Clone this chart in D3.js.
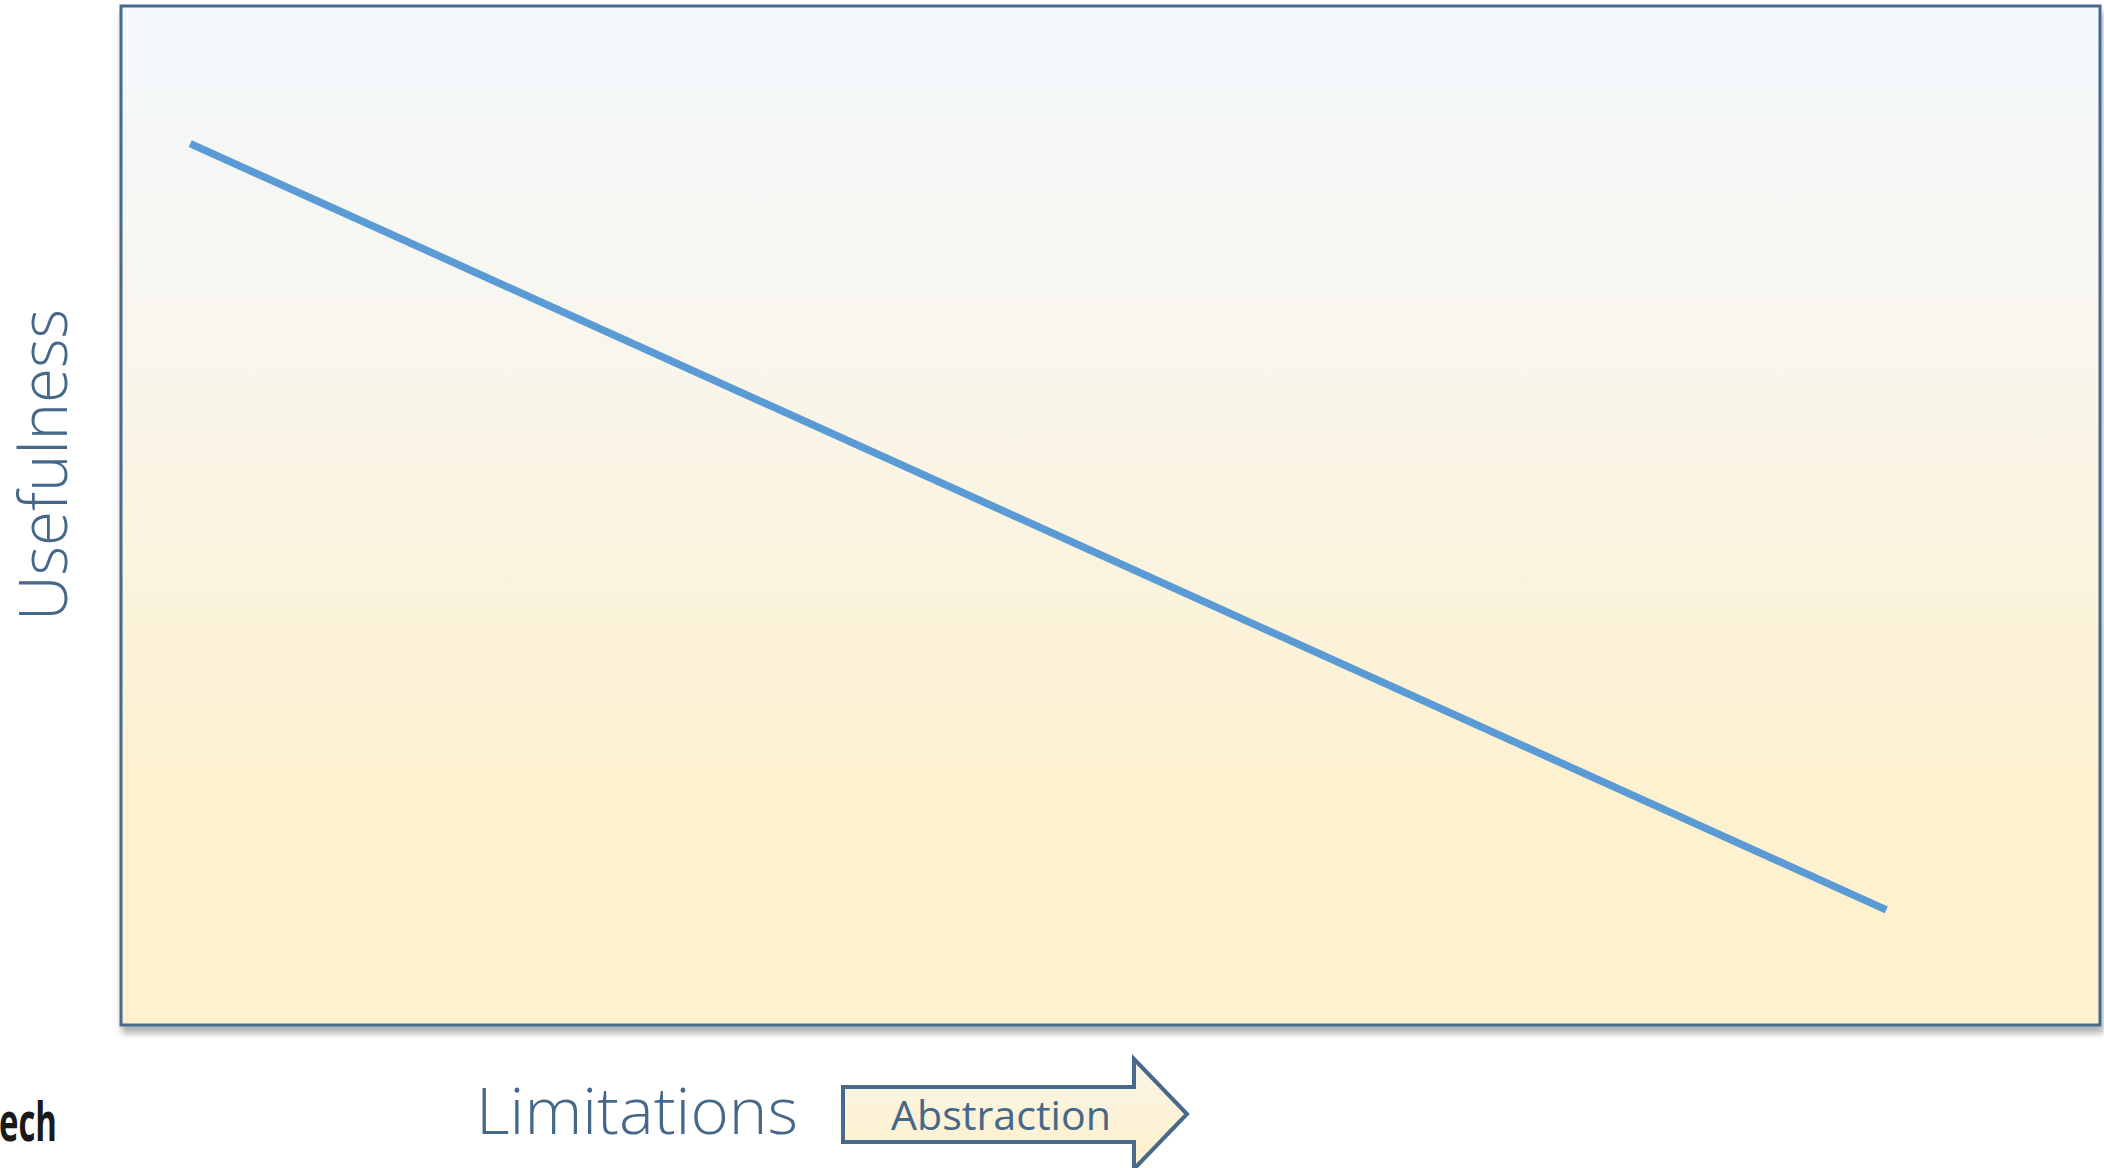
<!DOCTYPE html>
<html>
<head>
<meta charset="utf-8">
<script src="https://cdn.jsdelivr.net/npm/d3@7"></script>
<style>
  html, body { margin: 0; padding: 0; background: #fff; overflow: hidden; }
  svg { display: block; }
</style>
</head>
<body>
<svg id="chart"></svg>
<script>
// Data - usefulness falls as abstraction limitations grow
const lineX = [3.5, 89.2];
const lineY = [86.5, 11.3];
const yLabel = 'Usefulness';
const xLabel = 'Limitations';
const arrowLabel = 'Abstraction';
const cornerText = 'ech';

const W = 2104, H = 1168;
const margin = { top: 6, right: 4, bottom: 143, left: 121 };
const width = W - margin.left - margin.right;
const height = H - margin.top - margin.bottom;

const svg = d3.select('#chart')
    .attr('width', W)
    .attr('height', H);

const defs = svg.append('defs');

// background gradient of the plot box
const bg = defs.append('linearGradient')
    .attr('id', 'bg')
    .attr('x1', 0).attr('y1', 0).attr('x2', 0).attr('y2', 1);
bg.append('stop').attr('offset', '0%').attr('stop-color', '#F3F8FC');
bg.append('stop').attr('offset', '30%').attr('stop-color', '#F8F6EF');
bg.append('stop').attr('offset', '75%').attr('stop-color', '#FDF1D0');
bg.append('stop').attr('offset', '100%').attr('stop-color', '#FFF1CC');

const arrowFill = defs.append('linearGradient')
    .attr('id', 'arrowFill')
    .attr('x1', 0).attr('y1', 0).attr('x2', 0).attr('y2', 1);
arrowFill.append('stop').attr('offset', '0%').attr('stop-color', '#FBF6E8');
arrowFill.append('stop').attr('offset', '100%').attr('stop-color', '#FDEFC8');

const shadow = defs.append('filter')
    .attr('id', 'shadow')
    .attr('x', '-5%').attr('y', '-5%').attr('width', '110%').attr('height', '115%');
shadow.append('feDropShadow')
    .attr('dx', 2).attr('dy', 7)
    .attr('stdDeviation', 3)
    .attr('flood-color', '#000')
    .attr('flood-opacity', 0.3);

// plot box
svg.append('rect')
    .attr('x', margin.left)
    .attr('y', margin.top)
    .attr('width', width)
    .attr('height', height)
    .attr('fill', 'url(#bg)')
    .attr('stroke', '#46698C')
    .attr('stroke-width', 3)
    .attr('filter', 'url(#shadow)');

const g = svg.append('g')
    .attr('transform', `translate(${margin.left},${margin.top})`);

const x = d3.scaleLinear().domain([0, 100]).range([0, width]);
const y = d3.scaleLinear().domain([0, 100]).range([height, 0]);

const points = lineX.map((v, i) => ({ x: v, y: lineY[i] }));

g.append('path')
    .datum(points)
    .attr('fill', 'none')
    .attr('stroke', '#5B9BD5')
    .attr('stroke-width', 7.5)
    .attr('stroke-linecap', 'butt')
    .attr('d', d3.line().x(d => x(d.x)).y(d => y(d.y)));

// y label
svg.append('text')
    .attr('transform', 'translate(67,465) rotate(-90)')
    .attr('text-anchor', 'middle')
    .attr('font-family', '"Open Sans", sans-serif')
    .attr('font-weight', 300)
    .attr('font-size', 66)
    .attr('fill', '#45688A')
    .attr('textLength', 312)
    .attr('lengthAdjust', 'spacingAndGlyphs')
    .text(yLabel);

// x label
svg.append('text')
    .attr('x', 476)
    .attr('y', 1134)
    .attr('font-family', '"Open Sans", sans-serif')
    .attr('font-weight', 300)
    .attr('font-size', 64)
    .attr('fill', '#45688A')
    .attr('textLength', 322)
    .attr('lengthAdjust', 'spacingAndGlyphs')
    .text(xLabel);

// abstraction arrow
const ax0 = 843, ax1 = 1134, axTip = 1187;
const bodyTop = 1087, bodyBot = 1142, headTop = 1059, headBot = 1169;
const midY = (headTop + headBot) / 2;
svg.append('path')
    .attr('d', `M${ax0},${bodyTop} L${ax1},${bodyTop} L${ax1},${headTop} L${axTip},${midY} L${ax1},${headBot} L${ax1},${bodyBot} L${ax0},${bodyBot} Z`)
    .attr('fill', 'url(#arrowFill)')
    .attr('stroke', '#46698C')
    .attr('stroke-width', 4)
    .attr('stroke-linejoin', 'miter');

svg.append('text')
    .attr('x', 891)
    .attr('y', 1130)
    .attr('font-family', '"Open Sans", sans-serif')
    .attr('font-size', 40)
    .attr('fill', '#45688A')
    .attr('textLength', 220)
    .attr('lengthAdjust', 'spacingAndGlyphs')
    .text(arrowLabel);

// cut-off footer text at the left edge
svg.append('text')
    .attr('x', -1)
    .attr('y', 1141)
    .attr('font-family', '"Open Sans", sans-serif')
    .attr('font-weight', 700)
    .attr('font-size', 54)
    .attr('fill', '#1a1a1a')
    .attr('textLength', 58)
    .attr('lengthAdjust', 'spacingAndGlyphs')
    .text(cornerText);
</script>
</body>
</html>
